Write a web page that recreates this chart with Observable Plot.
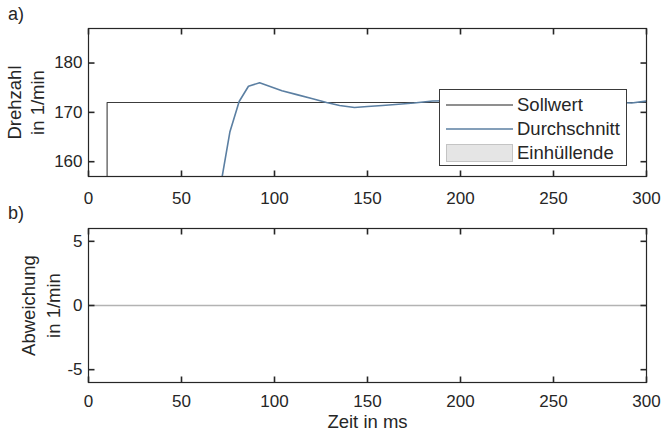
<!DOCTYPE html>
<html>
<head>
<meta charset="utf-8">
<script src="https://cdn.jsdelivr.net/npm/d3@7"></script>
<script src="https://cdn.jsdelivr.net/npm/@observablehq/plot@0.6"></script>
<style>
  html, body { margin: 0; padding: 0; background: #fff; }
  #wrap { position: relative; width: 662px; height: 431px; font-family: "Liberation Sans", Arial, sans-serif; color: #262626; }
  #wrap svg { display: block; }
  .panel-label { position: absolute; font-size: 18px; line-height: 1; }
  #legend { position: absolute; left: 439px; top: 89px; width: 188px; height: 77px; border: 1px solid #3a3a3a; background: #fff; box-sizing: border-box; }
  #legend .row { position: absolute; left: 0; height: 22px; width: 100%; }
  #legend .sw { position: absolute; left: 6px; top: 0; }
  #legend .lab { position: absolute; left: 77px; top: 1px; font-size: 18.5px; line-height: 20px; white-space: nowrap; }
</style>
</head>
<body>
<div id="wrap"></div>
<script>
// ---- data ----
const timeAvg = [60, 66, 70, 72, 76, 81, 86, 92, 98, 104, 112, 120, 128, 135, 143, 150, 158, 165, 175, 185, 200, 220, 250, 270, 285, 292, 300];
const rpmAvg  = [135, 146, 152.5, 157.3, 166, 172.2, 175.3, 176.0, 175.2, 174.4, 173.6, 172.8, 172.0, 171.4, 171.0, 171.2, 171.4, 171.6, 171.9, 172.3, 172.4, 172.3, 172.2, 172.1, 172.0, 171.9, 172.3];
const timeSoll = [0, 10, 10, 300];
const rpmSoll  = [0, 0, 172, 172];
const timeDev = [0, 300];
const devVals = [0, 0];
const xTicks = [0, 50, 100, 150, 200, 250, 300];
const yTicksTop = [160, 170, 180];
const yTicksBottom = [-5, 0, 5];
const legendLabels = ["Sollwert", "Durchschnitt", "Einhüllende"];
const panelLabels = ["a)", "b)"];
const yLabelTop = ["Drehzahl", "in 1/min"];
const yLabelBottom = ["Abweichung", "in 1/min"];
const xLabel = "Zeit in ms";

const avg = timeAvg.map((t, i) => ({t, v: rpmAvg[i]}));
const soll = timeSoll.map((t, i) => ({t, v: rpmSoll[i]}));
const dev = timeDev.map((t, i) => ({t, v: devVals[i]}));

const C_TEXT = "#262626";
const C_AXIS = "#262626";
const C_TICK = "#262626";
const C_SOLL = "#3c3c3c";
const C_AVG = "#5b7fa2";
const C_DEV = "#b3b3b3";
const FONT = "Liberation Sans, Arial, sans-serif";
const TICK = 6;
const X_DOMAIN = [0, 300];
const PLOT_W = 662 - 88 - 16;
const fmt = d => String(d);

// inward ticks on all four sides, lengths converted from pixels into data units
function axes(yTicks, yDomain, frameH, xPad) {
  const [x0, x1] = X_DOMAIN, [y0, y1] = yDomain;
  const dy = TICK * (y1 - y0) / frameH;
  const dx = TICK * (x1 - x0) / PLOT_W;
  const tickStyle = {stroke: C_TICK, strokeWidth: 1.6};
  const xt = xTicks.map(x => ({x}));
  const yt = yTicks.map(y => ({y}));
  return [
    Plot.axisX(xTicks, {anchor: "bottom", tickSize: 0, tickPadding: xPad, tickFormat: fmt, fontSize: 17, fill: C_TEXT, label: null}),
    Plot.axisY(yTicks, {anchor: "left", tickSize: 0, tickPadding: 6, tickFormat: fmt, fontSize: 17, fill: C_TEXT, label: null}),
    Plot.frame({stroke: C_AXIS, strokeWidth: 1.2}),
    Plot.link(xt, {x1: "x", x2: "x", y1: () => y0, y2: () => y0 + dy, ...tickStyle}),
    Plot.link(xt, {x1: "x", x2: "x", y1: () => y1, y2: () => y1 - dy, ...tickStyle}),
    Plot.link(yt, {y1: "y", y2: "y", x1: () => x0, x2: () => x0 + dx, ...tickStyle}),
    Plot.link(yt, {y1: "y", y2: "y", x1: () => x1, x2: () => x1 - dx, ...tickStyle})
  ];
}

function yLabel(lines, dxs) {
  return lines.map((s, i) => Plot.text([s], {frameAnchor: "left", dx: dxs[i], rotate: -90, text: d => d, fontSize: 18.5, fill: C_TEXT, textAnchor: "middle", lineAnchor: "middle"}));
}

const topDomain = [157, 187];
const chartTop = Plot.plot({
  width: 662, height: 208,
  marginTop: 28, marginBottom: 32, marginLeft: 88, marginRight: 16,
  style: {fontFamily: FONT, color: C_TEXT, background: "#fff"},
  x: {domain: X_DOMAIN},
  y: {domain: topDomain},
  marks: [
    Plot.line(soll, {x: "t", y: "v", stroke: C_SOLL, strokeWidth: 1.1, clip: true}),
    Plot.line(avg, {x: "t", y: "v", stroke: C_AVG, strokeWidth: 1.6, clip: true}),
    ...axes(yTicksTop, topDomain, 148, 15),
    ...yLabel(yLabelTop, [-73, -50])
  ]
});

const bottomDomain = [-6, 6];
const chartBottom = Plot.plot({
  width: 662, height: 223,
  marginTop: 20, marginBottom: 49, marginLeft: 88, marginRight: 16,
  style: {fontFamily: FONT, color: C_TEXT, background: "#fff"},
  x: {domain: X_DOMAIN},
  y: {domain: bottomDomain},
  marks: [
    Plot.line(dev, {x: "t", y: "v", stroke: C_DEV, strokeWidth: 1.6, clip: true}),
    ...axes(yTicksBottom, bottomDomain, 154, 12),
    ...yLabel(yLabelBottom, [-59, -34]),
    Plot.text([xLabel], {frameAnchor: "bottom", dy: 40, text: d => d, fontSize: 18.5, fill: C_TEXT, lineAnchor: "middle"})
  ]
});

const wrap = document.getElementById("wrap");
wrap.appendChild(chartTop);
wrap.appendChild(chartBottom);

// panel labels
[[8, 5], [8, 204]].forEach(([x, y], i) => {
  const d = document.createElement("div");
  d.className = "panel-label";
  d.style.left = x + "px";
  d.style.top = y + "px";
  d.textContent = panelLabels[i];
  wrap.appendChild(d);
});

// legend
const leg = d3.select(wrap).append("div").attr("id", "legend");
const rowTops = [4, 28, 52];
const kinds = ["soll", "avg", "env"];
legendLabels.forEach((lab, i) => {
  const row = leg.append("div").attr("class", "row").style("top", rowTops[i] + "px");
  const sw = row.append("svg").attr("class", "sw").attr("width", 68).attr("height", 22);
  if (kinds[i] === "env") {
    sw.append("rect").attr("x", 0.5).attr("y", 2.5).attr("width", 66).attr("height", 17)
      .attr("fill", "#e5e5e5").attr("stroke", "#c4c4c4");
  } else {
    sw.append("line").attr("x1", 0).attr("x2", 67).attr("y1", 11).attr("y2", 11)
      .attr("stroke", kinds[i] === "soll" ? "#6a6a6a" : C_AVG).attr("stroke-width", 1.6);
  }
  row.append("div").attr("class", "lab").text(lab);
});
</script>
</body>
</html>
